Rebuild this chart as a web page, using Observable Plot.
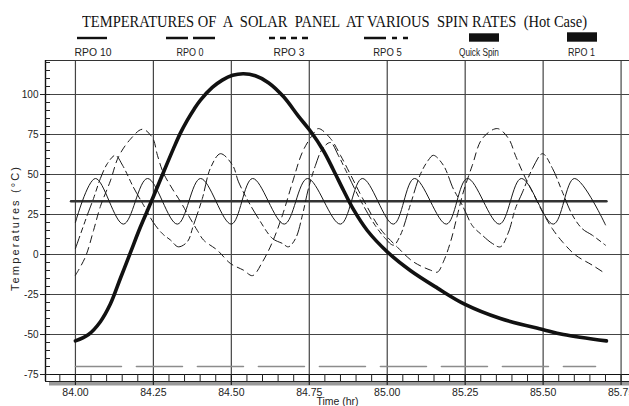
<!DOCTYPE html>
<html><head><meta charset="utf-8">
<script src="https://cdn.jsdelivr.net/npm/d3@7"></script>
<script src="https://cdn.jsdelivr.net/npm/@observablehq/plot@0.6"></script>
<style>
html,body{margin:0;padding:0;background:#fff;}
#top{position:relative;width:629px;height:58px;}
#header{position:absolute;left:0;top:0;display:block;}
#title{position:absolute;left:82px;top:12px;font-family:'Liberation Serif','Times New Roman',serif;font-size:17px;line-height:20px;color:#111;white-space:pre;transform-origin:0 0;text-decoration:none;}
#chart svg{display:block;}
</style></head><body>
<div id="top"><svg id="header" width="629" height="58"></svg><div id="title"></div></div>
<div id="chart"></div>
<script>
// ---------- data ----------
const chartTitle = "TEMPERATURES OF  A  SOLAR  PANEL  AT VARIOUS  SPIN RATES  (Hot Case)";
const seriesNames = ["RPO 10", "RPO 0", "RPO 3", "RPO 5", "Quick Spin", "RPO 1"];
const xLabel = "Time (hr)";
const yLabel = "Temperatures (°C)";
const xMajor = [84.00, 84.25, 84.50, 84.75, 85.00, 85.25, 85.50, 85.75];
const yMajor = [-75, -50, -25, 0, 25, 50, 75, 100];

const rpo10Time = [84.000,84.064,84.154,84.231,84.327,84.401,84.500,84.568,84.670,84.744,84.850,84.920,85.020,85.087,85.190,85.257,85.360,85.430,85.533,85.600,85.700];
const rpo10Temp = [20,47.5,19,47.5,19,47.5,19,47.5,19,47.5,19,47.5,19,47.5,19,47.5,19,47.5,19,47.5,18.5];

const rpo0Time = [84.000, 85.668];
const rpo0Temp = [-70, -70];

const rpo3Time = [84.000,84.032,84.058,84.080,84.112,84.138,84.176,84.215,84.247,84.263,84.282,84.311,84.337,84.362,84.391,84.411,84.455,84.497,84.539,84.568,84.600,84.632,84.664,84.696,84.728,84.760,84.779,84.818,84.850,84.882,84.924,84.978,85.033,85.084,85.139,85.161,85.180,85.203,85.225,85.244,85.273,85.305,85.353,85.389,85.411,85.434,85.466,85.498,85.530,85.562,85.604,85.658,85.700];
const rpo3Temp = [-13,-1.5,15,30,46,61,72,78.3,73,62,51,41,33,24.6,15,9,2.7,-5.6,-9.8,-13.2,-4.6,7.9,24.6,45,64,74.6,78.7,72.5,62,50,34,16,4.5,-4.6,-9.8,-11,-4.6,7.9,24.6,39,55.8,72.5,78.7,72.5,62,51.6,39,26.6,16,7.9,-0.4,-6.7,-12];

const rpo5Time = [84.000,84.038,84.058,84.080,84.103,84.128,84.151,84.186,84.218,84.250,84.279,84.305,84.330,84.359,84.378,84.407,84.433,84.465,84.504,84.523,84.555,84.587,84.632,84.664,84.683,84.706,84.728,84.747,84.770,84.792,84.818,84.843,84.866,84.914,84.962,84.994,85.020,85.042,85.074,85.106,85.132,85.148,85.180,85.212,85.235,85.251,85.273,85.305,85.337,85.363,85.389,85.411,85.434,85.466,85.498,85.530,85.562,85.594,85.626,85.658,85.700];
const rpo5Temp = [3.7,24.6,35,47.5,57,62,55.8,42,31,20,13,9,4.8,8,18,35,54,63,55.8,45.4,33,22.5,10,6.9,4.8,10,24.6,41,55.8,66,70,62,53,34,18,10,5.8,12,31,50,59,62,55.8,41,33,26.6,18,12,6.9,4.8,14,28.7,39,53.8,63,53.8,39,24.6,16,12,5.8];

const quickTime = [83.986, 85.703];
const quickTemp = [33.3, 33.3];

const rpo1Time = [84.000,84.042,84.080,84.112,84.144,84.176,84.208,84.241,84.273,84.314,84.337,84.359,84.381,84.401,84.439,84.471,84.504,84.539,84.577,84.619,84.667,84.715,84.754,84.795,84.827,84.860,84.892,84.936,85.001,85.074,85.161,85.248,85.363,85.501,85.565,85.703];
const rpo1Temp = [-54,-50,-42,-31,-15,1,17,32,47,66,76,84,91,96.5,104.4,109,112,113,111.7,107.4,98.7,86.5,77,65,53,40,28,15,1.5,-10,-21,-31,-40,-47,-50,-54];

// ---------- helpers ----------
const rows = (t, v) => t.map((d, i) => ({t: d, v: v[i]}));
const xDomain = [83.904, 85.777];
const yDomain = [-75, 121.25];
const xMinor = d3.range(0, 37).map(i => Math.round((83.95 + i * 0.05) * 100) / 100);
const yMinor = d3.range(0, 40).map(i => -75 + i * 5);
const yGrid = yMajor.filter(d => d > -75);

// fit an SVG text element horizontally to a target length by scaling
function fitText(sel, x, y, target) {
  const L = sel.node().getComputedTextLength();
  sel.attr("transform", `translate(${x},${y}) scale(${target / L},1)`);
}

// ---------- header (title + legend) ----------
const titleDiv = document.getElementById("title");
titleDiv.textContent = chartTitle;
const natW = titleDiv.getBoundingClientRect().width;
titleDiv.style.transform = `scaleX(${505 / natW})`;

const hdr = d3.select("#header");
const legendLayout = [
  {cx: 93,    x1: 77,  x2: 107, dash: null,       tw: 37},
  {cx: 190,   x1: 166, x2: 215, dash: "22,5",     tw: 27},
  {cx: 289,   x1: 269, x2: 308, dash: "6,5",      tw: 31},
  {cx: 387.5, x1: 364, x2: 408, dash: "22,6,5,6", tw: 28.5},
  {cx: 479,   x1: 469, x2: 499, box: [33.3, 8.4], tw: 40},
  {cx: 581.5, x1: 567, x2: 597, box: [32.3, 9.4], tw: 27}
];
seriesNames.forEach((name, i) => {
  const L = legendLayout[i];
  if (L.box) {
    hdr.append("rect").attr("x", L.x1).attr("y", L.box[0]).attr("width", L.x2 - L.x1).attr("height", L.box[1]).attr("fill", "#111");
  } else {
    const ln = hdr.append("line").attr("x1", L.x1).attr("x2", L.x2).attr("y1", 38).attr("y2", 38)
      .attr("stroke", "#111").attr("stroke-width", 2.4);
    if (L.dash) ln.attr("stroke-dasharray", L.dash);
  }
  const t = hdr.append("text")
    .attr("font-family", "'Liberation Sans',Arial,sans-serif").attr("font-size", 10.5).attr("fill", "#222")
    .text(name);
  fitText(t, L.cx - L.tw / 2, 56, L.tw);
});

// ---------- chart ----------
const grid = "#444";
const chart = Plot.plot({
  width: 629, height: 348,
  marginLeft: 45, marginRight: 0, marginTop: 2, marginBottom: 32,
  x: {domain: xDomain},
  y: {domain: yDomain},
  style: {fontFamily: "'Liberation Sans',Arial,sans-serif", fontSize: "10.5px", color: "#222", background: "#fff", overflow: "hidden"},
  marks: [
    Plot.ruleY([-75], {dy: 8.9, dx: 4, stroke: "#9a9a9a", strokeWidth: 4.3}),
    Plot.ruleY(yGrid, {stroke: grid, strokeWidth: 1}),
    Plot.ruleX(xMajor, {stroke: grid, strokeWidth: 1.2}),
    Plot.ruleY([yDomain[1]], {stroke: "#333", strokeWidth: 1}),
    Plot.ruleY([-75], {stroke: "#111", strokeWidth: 1.2}),
    Plot.ruleY([-75], {dy: 7, stroke: "#222", strokeWidth: 1}),
    Plot.ruleX([xDomain[0]], {insetBottom: -7, stroke: "#111", strokeWidth: 1.4}),
    Plot.tickY(yMinor, {insetRight: 579, stroke: "#222"}),
    Plot.axisY(yMajor, {tickSize: 5, tickPadding: 2, tickFormat: d => String(d), label: null, fontSize: 10, stroke: "#222"}),
    Plot.axisX(xMinor, {tickSize: 7, tickFormat: () => "", label: null, stroke: "#222"}),
    Plot.axisX(xMajor, {tickSize: 11, tickPadding: 3, tickFormat: d3.format(".2f"), label: null, fontSize: 10.5, stroke: "#222", strokeWidth: 1.2}),
    Plot.text([xLabel], {frameAnchor: "bottom", dy: 30.8, fontSize: 10.5, fill: "#222"}),

    Plot.line(rows(rpo0Time, rpo0Temp), {x: "t", y: "v", stroke: "#8c8c8c", strokeWidth: 1.6, strokeDasharray: "46,15"}),
    Plot.line(rows(quickTime, quickTemp), {x: "t", y: "v", stroke: "#333", strokeWidth: 2.6}),
    Plot.line(rows(rpo10Time, rpo10Temp), {x: "t", y: "v", stroke: "#1a1a1a", strokeWidth: 1, curve: "catmull-rom"}),
    Plot.line(rows(rpo3Time, rpo3Temp), {x: "t", y: "v", stroke: "#1a1a1a", strokeWidth: 1, strokeDasharray: "7,5", curve: "catmull-rom"}),
    Plot.line(rows(rpo5Time, rpo5Temp), {x: "t", y: "v", stroke: "#1a1a1a", strokeWidth: 1, strokeDasharray: "13,4,5,4,5,4", curve: "catmull-rom"}),
    Plot.line(rows(rpo1Time, rpo1Temp), {x: "t", y: "v", stroke: "#111", strokeWidth: 3.6, curve: "catmull-rom", strokeLinecap: "round"})
  ]
});
document.getElementById("chart").appendChild(chart);

// y-axis title (rotated, reading bottom to top)
d3.select(chart).append("text")
  .attr("font-family", "'Liberation Sans',Arial,sans-serif").attr("font-size", 11).attr("fill", "#222")
  .attr("text-anchor", "start")
  .attr("textLength", 124).attr("lengthAdjust", "spacing")
  .attr("transform", "translate(19.3,233) rotate(-90)")
  .text(yLabel);
</script>
</body></html>
